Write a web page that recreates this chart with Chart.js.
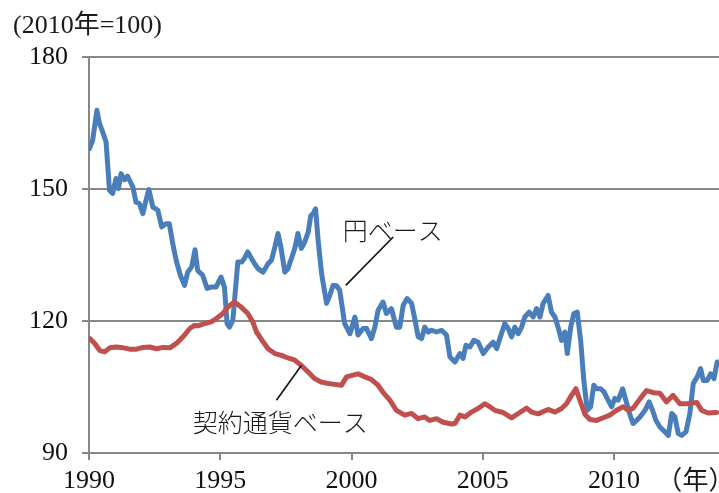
<!DOCTYPE html>
<html>
<head>
<meta charset="utf-8">
<script src="https://cdn.jsdelivr.net/npm/chart.js@4"></script>
<style>
  html, body { margin: 0; padding: 0; background: #fff; }
  #wrap { width: 719px; height: 493px; position: relative; }
</style>
</head>
<body>
<div id="wrap"><canvas id="priceChart"></canvas></div>
<script>
// 円ベース (yen basis) — decimal year / index value
const yenYears = [
  1990.02, 1990.14, 1990.30, 1990.40, 1990.52, 1990.65, 1990.78, 1990.90, 1991.03, 1991.12,
  1991.22, 1991.35, 1991.47, 1991.67, 1991.79, 1991.92, 1992.05, 1992.17, 1992.28, 1992.43,
  1992.62, 1992.77, 1992.93, 1993.06, 1993.19, 1993.32, 1993.48, 1993.64, 1993.76, 1993.91,
  1994.04, 1994.14, 1994.33, 1994.50, 1994.65, 1994.84, 1995.03, 1995.16, 1995.26, 1995.35,
  1995.48, 1995.67, 1995.82, 1995.92, 1996.05, 1996.19, 1996.31, 1996.44, 1996.63, 1996.82,
  1996.95, 1997.08, 1997.20, 1997.31, 1997.46, 1997.58, 1997.71, 1997.84, 1997.96, 1998.09,
  1998.22, 1998.35, 1998.45, 1998.54, 1998.63, 1998.73, 1998.86, 1999.05, 1999.17, 1999.30,
  1999.43, 1999.55, 1999.74, 1999.94, 2000.13, 2000.25, 2000.44, 2000.57, 2000.76, 2000.89,
  2001.01, 2001.20, 2001.33, 2001.52, 2001.71, 2001.84, 2001.97, 2002.12, 2002.29, 2002.41,
  2002.54, 2002.67, 2002.79, 2002.92, 2003.05, 2003.24, 2003.43, 2003.62, 2003.75, 2003.94,
  2004.13, 2004.25, 2004.36, 2004.51, 2004.66, 2004.82, 2005.02, 2005.21, 2005.40, 2005.53,
  2005.65, 2005.84, 2005.97, 2006.10, 2006.22, 2006.35, 2006.48, 2006.60, 2006.77, 2006.92,
  2007.05, 2007.18, 2007.30, 2007.49, 2007.62, 2007.75, 2007.87, 2008.00, 2008.13, 2008.22,
  2008.35, 2008.47, 2008.60, 2008.73, 2008.85, 2008.98, 2009.11, 2009.23, 2009.34, 2009.49,
  2009.62, 2009.74, 2009.91, 2010.03, 2010.16, 2010.33, 2010.45, 2010.61, 2010.73, 2010.86,
  2010.99, 2011.18, 2011.34, 2011.47, 2011.60, 2011.75, 2011.94, 2012.07, 2012.20, 2012.32,
  2012.45, 2012.58, 2012.74, 2012.89, 2013.02, 2013.17, 2013.30, 2013.40, 2013.55, 2013.68,
  2013.81, 2013.93
];
const yenValues = [
  159.2, 161.1, 167.9, 164.9, 163.0, 160.7, 149.7, 149.0, 152.4, 150.1,
  153.5, 152.1, 152.9, 150.5, 147.0, 146.7, 144.4, 147.4, 149.9, 145.9,
  145.2, 141.4, 142.1, 142.1, 137.6, 133.8, 130.4, 128.1, 131.1, 132.3,
  136.2, 131.5, 130.4, 127.4, 127.7, 127.7, 130.0, 127.7, 119.4, 118.6,
  120.2, 133.4, 133.4, 134.2, 135.7, 134.2, 133.0, 131.9, 131.1, 133.0,
  133.8, 136.8, 139.9, 136.8, 131.1, 131.9, 134.2, 136.5, 139.9, 136.5,
  138.0, 140.2, 144.0, 144.4, 145.5, 138.3, 130.8, 124.0, 125.8, 128.1,
  128.0, 127.0, 119.4, 117.1, 120.9, 116.8, 118.3, 118.3, 116.0, 118.6,
  122.4, 124.3, 121.7, 122.8, 118.6, 118.6, 123.6, 125.1, 124.0, 120.5,
  116.4, 116.0, 118.6, 117.5, 117.9, 117.5, 117.9, 116.8, 111.8, 110.7,
  112.6, 111.5, 114.5, 114.1, 115.6, 115.2, 112.6, 114.1, 115.2, 113.7,
  116.0, 119.4, 118.3, 116.4, 118.6, 117.1, 118.6, 120.9, 122.0, 120.9,
  122.8, 120.9, 124.0, 125.8, 122.0, 120.9, 118.6, 115.6, 117.5, 112.6,
  118.6, 121.7, 122.0, 115.6, 106.5, 99.7, 100.5, 105.4, 104.6, 104.6,
  103.9, 102.4, 100.5, 102.4, 102.0, 104.6, 102.0, 98.6, 96.7, 97.4,
  98.2, 99.7, 101.6, 99.7, 97.4, 95.9, 94.8, 94.0, 99.0, 98.2,
  94.4, 94.0, 94.8, 99.0, 105.8, 107.3, 109.2, 106.5, 106.5, 108.0,
  106.9, 110.7
];

// 契約通貨ベース (contract currency basis)
const contractYears = [
  1990.03, 1990.22, 1990.41, 1990.60, 1990.79, 1991.04, 1991.30, 1991.55, 1991.81, 1992.06,
  1992.31, 1992.57, 1992.82, 1993.08, 1993.33, 1993.58, 1993.84, 1994.02, 1994.15, 1994.40,
  1994.65, 1994.84, 1995.10, 1995.29, 1995.54, 1995.79, 1996.05, 1996.24, 1996.38, 1996.57,
  1996.82, 1997.08, 1997.33, 1997.58, 1997.84, 1998.09, 1998.35, 1998.60, 1998.86, 1999.11,
  1999.36, 1999.62, 1999.81, 2000.06, 2000.25, 2000.51, 2000.76, 2001.01, 2001.20, 2001.46,
  2001.71, 2002.03, 2002.29, 2002.54, 2002.79, 2002.98, 2003.24, 2003.49, 2003.81, 2003.94,
  2004.13, 2004.32, 2004.57, 2004.82, 2005.08, 2005.27, 2005.46, 2005.78, 2006.10, 2006.41,
  2006.67, 2006.86, 2007.11, 2007.49, 2007.75, 2008.00, 2008.19, 2008.38, 2008.55, 2008.70,
  2008.89, 2009.08, 2009.34, 2009.59, 2009.84, 2010.10, 2010.35, 2010.54, 2010.73, 2010.99,
  2011.24, 2011.50, 2011.75, 2012.00, 2012.25, 2012.51, 2012.83, 2013.15, 2013.34, 2013.59,
  2013.91
];
const contractValues = [
  116.0, 114.9, 113.3, 113.0, 113.9, 114.1, 113.9, 113.6, 113.6, 114.0,
  114.1, 113.7, 114.0, 113.9, 114.9, 116.4, 118.3, 119.0, 118.9, 119.4,
  119.8, 120.5, 121.7, 123.2, 124.3, 123.2, 121.7, 119.8, 117.5, 115.8,
  113.7, 112.6, 112.2, 111.6, 111.1, 109.9, 108.4, 106.9, 106.1, 105.8,
  105.6, 105.4, 107.3, 107.7, 108.0, 107.3, 106.7, 105.4, 103.8, 102.0,
  99.7, 98.6, 99.0, 97.8, 98.2, 97.4, 97.8, 97.0, 96.6, 96.7,
  98.6, 98.2, 99.3, 100.1, 101.2, 100.5, 99.7, 99.2, 98.0, 99.2,
  100.2, 99.3, 98.9, 99.9, 99.3, 100.1, 101.2, 103.1, 104.6, 102.0,
  98.8, 97.6, 97.4, 98.0, 98.6, 99.7, 100.5, 99.7, 100.2, 102.3,
  104.2, 103.7, 103.6, 101.6, 103.1, 101.2, 101.2, 101.5, 99.7, 99.1,
  99.2
];

const xTicks = [1990, 1995, 2000, 2005, 2010];
const yTicks = [90, 120, 150, 180];
const unitLabel = '(2010年=100)';
const yearLabel = '（年）';

// annotation labels, placed in data units
const noteTexts = ['円ベース', '契約通貨ベース'];
const noteAt = [[1999.67, 140.6], [1993.95, 97.0]];
const noteLineFrom = [[2001.59, 139.1], [1998.09, 109.9]];
const noteLineTo = [[1999.78, 128.1], [1997.14, 102.0]];

const GRID = '#878787';
const SERIF = '"Liberation Serif", "Noto Sans CJK JP", serif';

const notesPlugin = {
  id: 'notes',
  afterDraw(chart) {
    const { ctx } = chart;
    const x = chart.scales.x, y = chart.scales.y;
    ctx.save();
    ctx.fillStyle = '#1a1a1a';
    ctx.textBaseline = 'middle';
    ctx.font = '26px ' + SERIF;
    ctx.textAlign = 'left';
    ctx.fillText(unitLabel, 13, 26);
    ctx.textAlign = 'center';
    ctx.fillText(yearLabel, x.getPixelForValue(2013.1), 482);

    ctx.textAlign = 'left';
    ctx.font = '300 25px "Noto Sans CJK JP", sans-serif';
    ctx.strokeStyle = '#111';
    ctx.lineWidth = 1.6;
    noteTexts.forEach((t, i) => {
      ctx.fillText(t, x.getPixelForValue(noteAt[i][0]), y.getPixelForValue(noteAt[i][1]));
      ctx.beginPath();
      ctx.moveTo(x.getPixelForValue(noteLineFrom[i][0]), y.getPixelForValue(noteLineFrom[i][1]));
      ctx.lineTo(x.getPixelForValue(noteLineTo[i][0]), y.getPixelForValue(noteLineTo[i][1]));
      ctx.stroke();
    });
    ctx.restore();
  }
};

const toPoints = (xs, ys) => xs.map((v, i) => ({ x: v, y: ys[i] }));

new Chart(document.getElementById('priceChart'), {
  type: 'line',
  data: {
    datasets: [{
      label: '円ベース',
      data: toPoints(yenYears, yenValues),
      borderColor: '#4a7ebb',
      borderWidth: 5,
      order: 2
    }, {
      label: '契約通貨ベース',
      data: toPoints(contractYears, contractValues),
      borderColor: '#c0504d',
      borderWidth: 5,
      order: 1
    }]
  },
  options: {
    responsive: true,
    maintainAspectRatio: false,
    animation: false,
    layout: { padding: { top: 57, right: 0, left: 0, bottom: 0 } },
    elements: {
      point: { radius: 0 },
      line: { tension: 0, borderJoinStyle: 'round', borderCapStyle: 'round', fill: false }
    },
    plugins: { legend: { display: false }, tooltip: { enabled: false } },
    scales: {
      x: {
        type: 'linear',
        min: 1990,
        max: 2014,
        afterBuildTicks: s => { s.ticks = xTicks.map(v => ({ value: v })); },
        afterFit: s => { s.height = 40; },
        grid: { drawOnChartArea: false, color: GRID, lineWidth: 2, tickLength: 7 },
        border: { color: GRID, width: 2 },
        ticks: { color: '#111', font: { family: SERIF, size: 26 }, padding: 6, maxRotation: 0, callback: v => String(v) }
      },
      y: {
        min: 90,
        max: 180,
        afterBuildTicks: s => { s.ticks = yTicks.map(v => ({ value: v })); },
        afterFit: s => { s.width = 89; },
        grid: { color: GRID, lineWidth: 2, tickLength: 7 },
        border: { color: GRID, width: 2 },
        ticks: { color: '#111', font: { family: SERIF, size: 26 }, padding: 14 }
      }
    }
  },
  plugins: [notesPlugin]
});
</script>
</body>
</html>
